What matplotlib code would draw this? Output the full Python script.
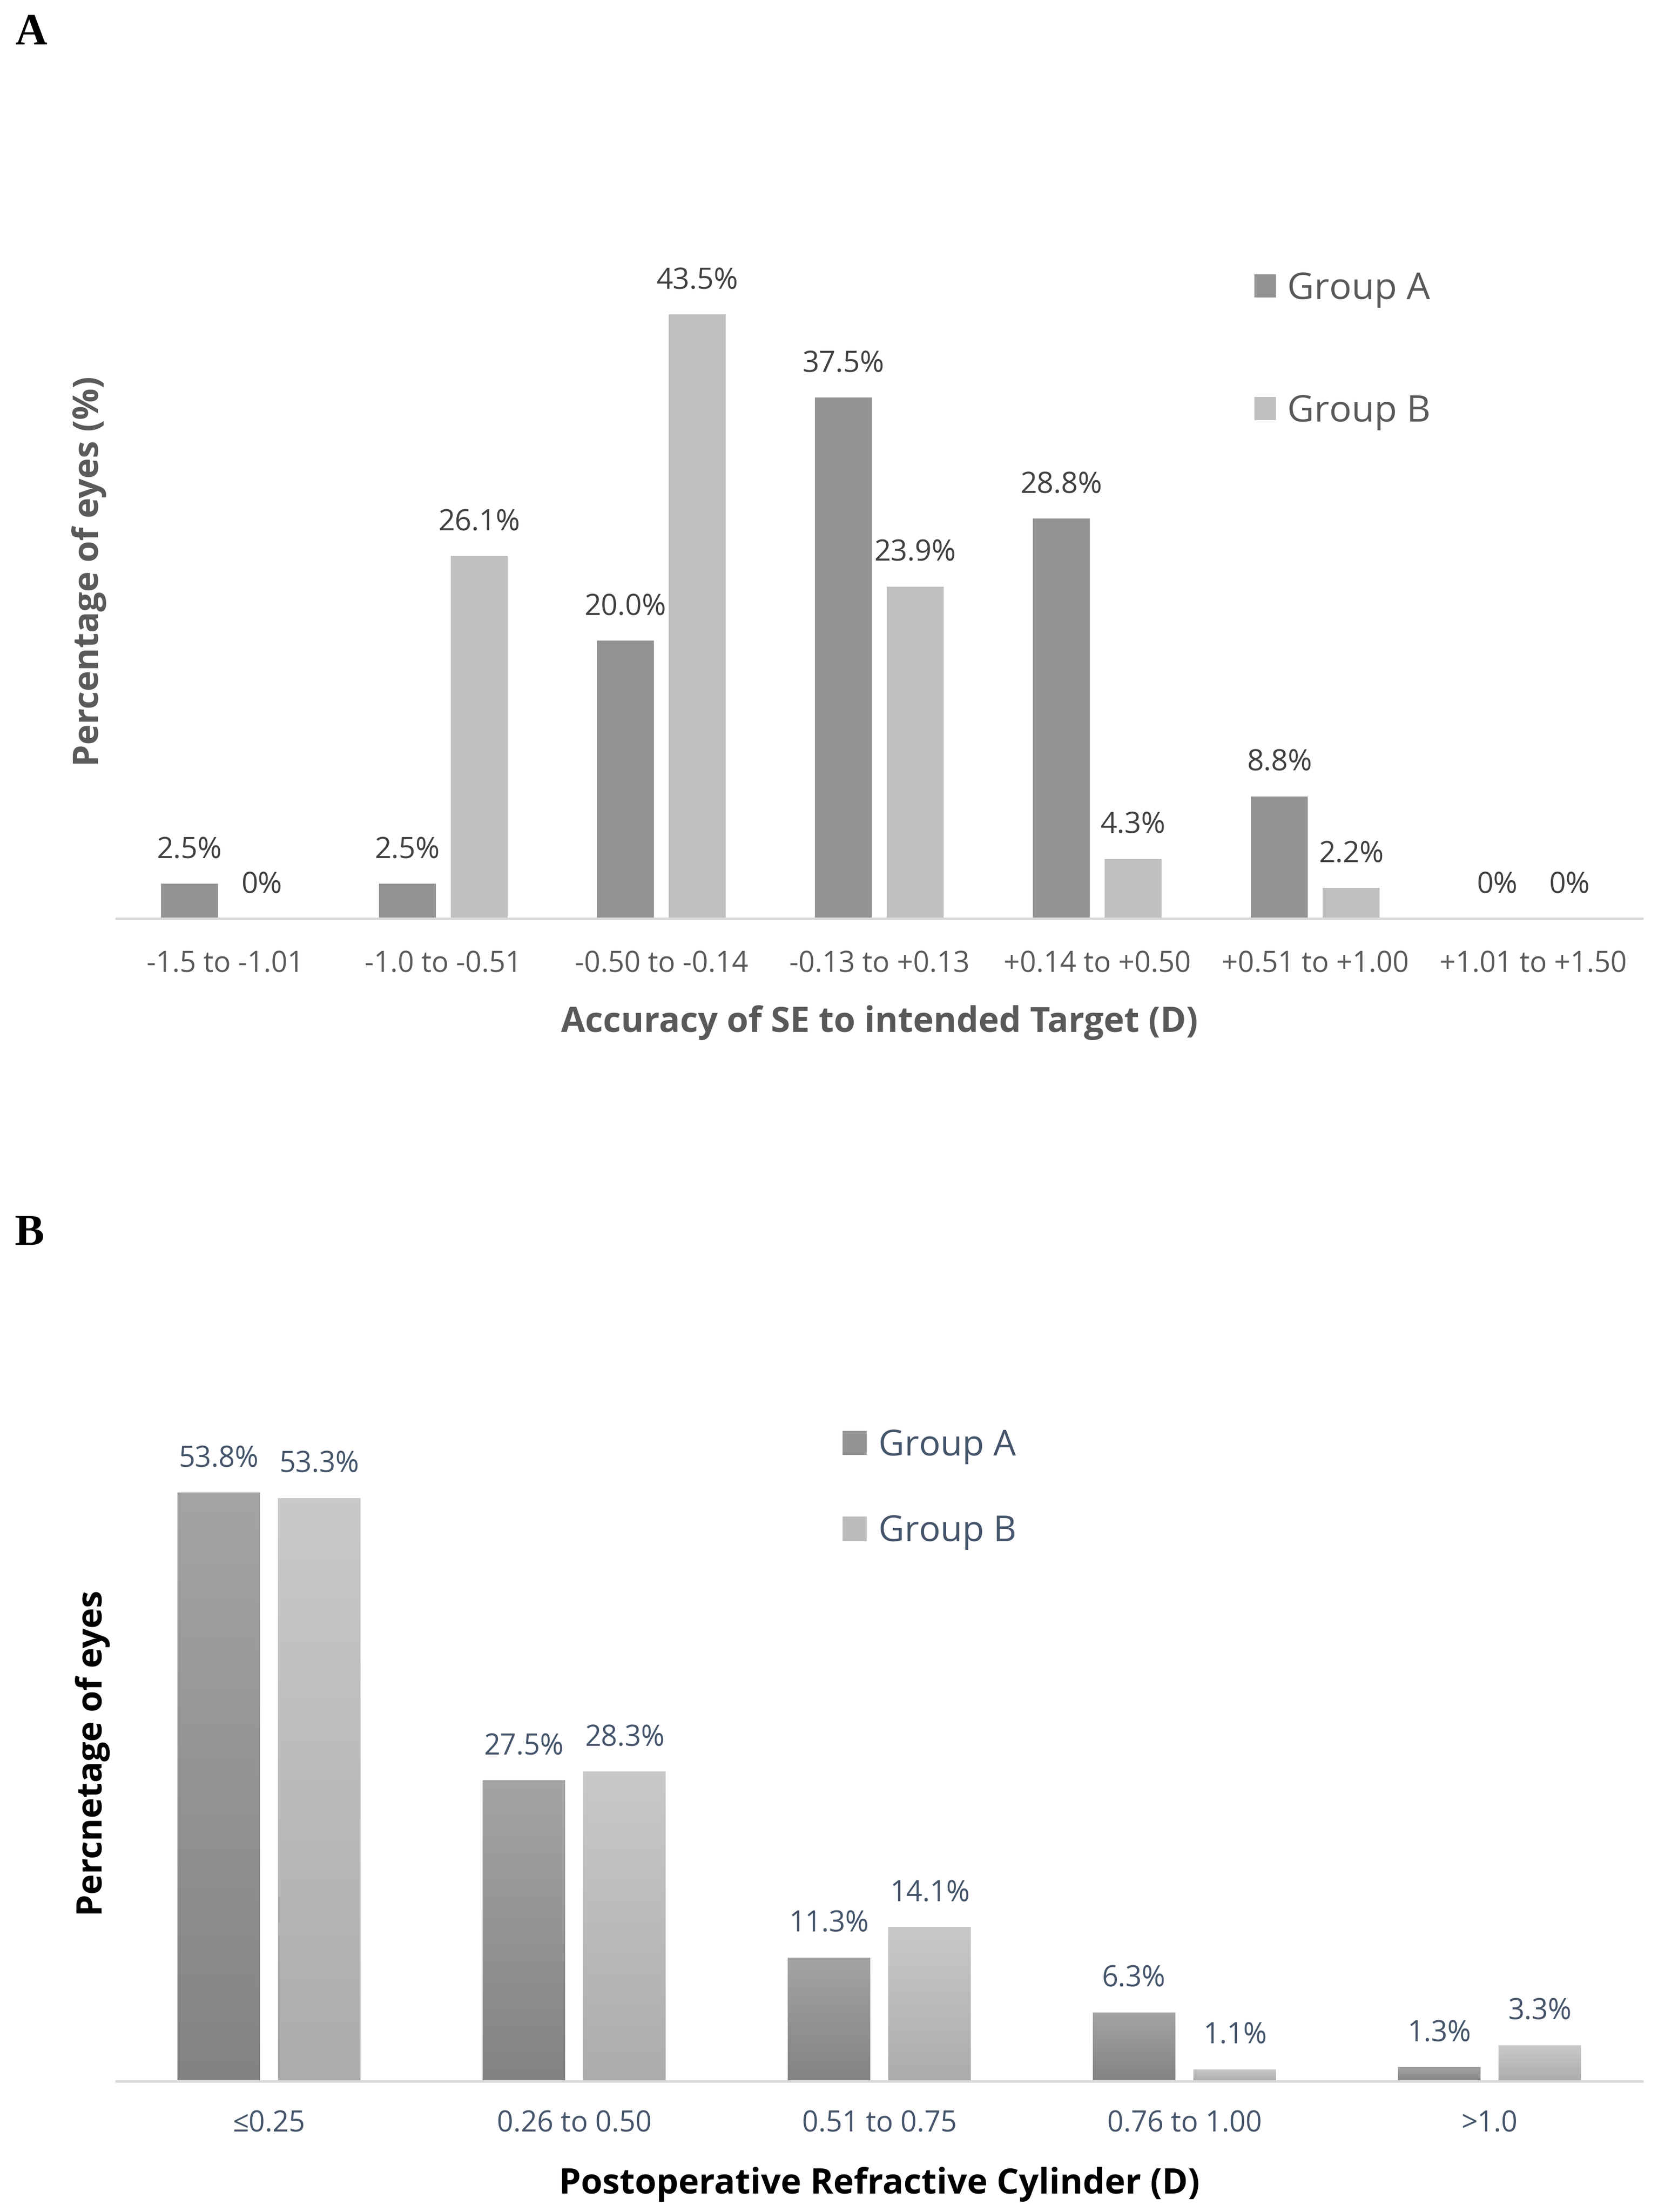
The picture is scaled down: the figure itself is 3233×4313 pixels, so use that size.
import numpy as np
import matplotlib
matplotlib.use("Agg")
import matplotlib.pyplot as plt
from matplotlib.colors import LinearSegmentedColormap

plt.rcParams['font.family'] = ['Open Sans', 'DejaVu Sans']

# panel A : spherical equivalent accuracy
se_cats = ["-1.5 to -1.01", "-1.0 to -0.51", "-0.50 to -0.14", "-0.13 to +0.13",
           "+0.14 to +0.50", "+0.51 to +1.00", "+1.01 to +1.50"]
se_group_a = [2.5, 2.5, 20.0, 37.5, 28.8, 8.8, 0]
se_group_b = [0, 26.1, 43.5, 23.9, 4.3, 2.2, 0]

# panel B : refractive cylinder
cyl_cats = ["≤0.25", "0.26 to 0.50", "0.51 to 0.75", "0.76 to 1.00", ">1.0"]
cyl_group_a = [53.8, 27.5, 11.3, 6.3, 1.3]
cyl_group_b = [53.3, 28.3, 14.1, 1.1, 3.3]

series_names = ["Group A", "Group B"]


def pct(v):
    return "0%" if v == 0 else "%.1f%%" % v


def style_axis(ax, ymax, tick_color, pad):
    for s in ["top", "right", "left"]:
        ax.spines[s].set_visible(False)
    ax.spines["bottom"].set_color("#d9d9d9")
    ax.spines["bottom"].set_linewidth(3.5)
    ax.set_yticks([])
    ax.set_ylim(0, ymax)
    ax.tick_params(axis="x", length=0, pad=pad, labelsize=40, labelcolor=tick_color)


def add_labels(ax, bars, vals, color, size):
    for b, v in zip(bars, vals):
        ax.annotate(pct(v), (b.get_x() + b.get_width() / 2, b.get_height()),
                    xytext=(0, 36), textcoords="offset points", ha="center",
                    va="baseline", fontsize=size, color=color)


def gradient_fill(ax, bars, c_bottom, c_top):
    # excel style vertical gradient, one per bar
    cmap = LinearSegmentedColormap.from_list("grad", [c_bottom, c_top])
    grad = np.linspace(0, 1, 256).reshape(-1, 1)
    for b in bars:
        x0, w, h = b.get_x(), b.get_width(), b.get_height()
        if h <= 0:
            continue
        im = ax.imshow(grad, cmap=cmap, origin="lower", aspect="auto",
                       extent=(x0, x0 + w, 0, h), interpolation="bicubic",
                       zorder=b.get_zorder() + 0.1)
        im.set_clip_path(b)


fig = plt.figure(figsize=(32.33, 43.13), dpi=100)

# ---------------- panel A ----------------
axA = fig.add_axes([0.0702, 0.58474, 0.9202, 0.31394])
x = np.arange(len(se_cats))
w, off = 0.26, 0.165
barsA1 = axA.bar(x - off, se_group_a, w, color="#939393", label=series_names[0])
barsA2 = axA.bar(x + off, se_group_b, w, color="#c0c0c0", label=series_names[1])
axA.set_xlim(-0.5, len(se_cats) - 0.5)
style_axis(axA, 50, "#595959", 44)
axA.set_xticks(x)
axA.set_xticklabels(se_cats)
add_labels(axA, barsA1, se_group_a, "#404040", 41)
add_labels(axA, barsA2, se_group_b, "#404040", 41)

axA.set_xlabel("Accuracy of SE to intended Target (D)", fontsize=49,
               fontweight="bold", color="#595959", va="baseline")
axA.xaxis.set_label_coords(0.5, -0.1632)
axA.set_ylabel("Percentage of eyes (%)", fontsize=49, fontweight="bold",
               color="#595959", va="center")
axA.yaxis.set_label_coords(-0.0178, 0.5)

axA.legend(loc="center left", bbox_to_anchor=(0.7566, 0.8415),
           bbox_transform=fig.transFigure, frameon=False, fontsize=52,
           labelcolor="#595959", handlelength=0.58, handleheight=0.58,
           handletextpad=0.3, labelspacing=2.32, borderpad=0, borderaxespad=0)

fig.text(0.009, 1 - 86 / 4313, "A", family="Liberation Serif",
         fontweight="bold", fontsize=62, va="baseline", ha="left")

# ---------------- panel B ----------------
axB = fig.add_axes([0.0702, 0.05912, 0.9202, 0.29678])
xb = np.arange(len(cyl_cats))
wb = 0.27
barsB1 = axB.bar(xb - off, cyl_group_a, wb, color="#939393", label=series_names[0])
barsB2 = axB.bar(xb + off, cyl_group_b, wb, color="#bcbcbc", label=series_names[1])
gradient_fill(axB, barsB1, "#838383", "#a4a4a4")
gradient_fill(axB, barsB2, "#acacac", "#c9c9c9")
axB.set_xlim(-0.5, len(cyl_cats) - 0.5)
style_axis(axB, 60, "#44546a", 40)
axB.set_xticks(xb)
axB.set_xticklabels(cyl_cats)
add_labels(axB, barsB1, cyl_group_a, "#44546a", 40)
add_labels(axB, barsB2, cyl_group_b, "#44546a", 40)

axB.set_xlabel("Postoperative Refractive Cylinder (D)", fontsize=49,
               fontweight="bold", color="black", va="baseline")
axB.xaxis.set_label_coords(0.5, -0.171)
axB.set_ylabel("Percnetage of eyes", fontsize=49, fontweight="bold",
               color="black", va="center")
axB.yaxis.set_label_coords(-0.0156, 0.5)

axB.legend(loc="center left", bbox_to_anchor=(0.5082, 0.3268),
           bbox_transform=fig.transFigure, frameon=False, fontsize=50,
           labelcolor="#44546a", handlelength=0.68, handleheight=0.68,
           handletextpad=0.33, labelspacing=1.4, borderpad=0, borderaxespad=0)

fig.text(0.009, 1 - 2428 / 4313, "B", family="Liberation Serif",
         fontweight="bold", fontsize=62, va="baseline", ha="left")

fig.savefig("out.png", dpi=100, facecolor="white")
